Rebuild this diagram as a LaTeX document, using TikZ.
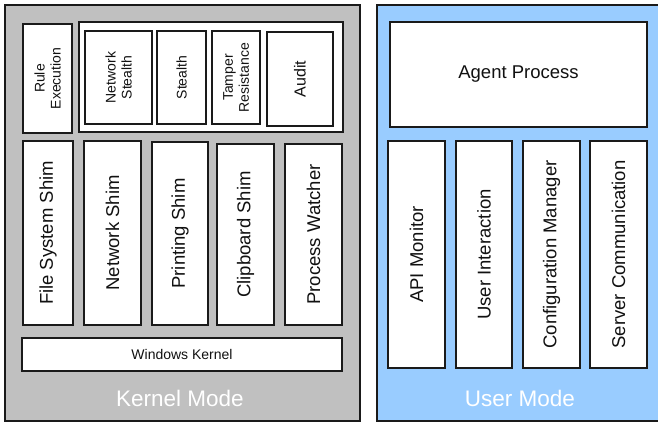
\documentclass[tikz,border=0pt]{standalone}
\usepackage{fontspec}
\setmainfont{Liberation Sans}
\definecolor{kgray}{HTML}{C0C0C0}
\definecolor{ublue}{HTML}{99CCFF}
\definecolor{edgec}{HTML}{1A1A1A}
\definecolor{txt}{HTML}{111111}
\tikzset{
  mode/.style={draw=edgec, line width=1.4pt, inner sep=0pt},
  box/.style={draw=edgec, fill=white, line width=1.1pt, inner sep=0pt, align=center, text=txt},
  big/.style={font=\fontsize{18.5}{20}\selectfont},
  small/.style={font=\fontsize{14}{16}\selectfont},
  modelabel/.style={text=white, font=\fontsize{22.5}{24}\selectfont, inner sep=0pt}
}
\begin{document}
\begin{tikzpicture}[x=1pt,y=-1pt]
\useasboundingbox (0,0) rectangle (658,422);
\clip (0,0) rectangle (658,422);
% mode panels
\node[mode, fill=kgray, minimum width=355pt, minimum height=416pt] (kernel) at (182.5,213) {};
\node[mode, fill=ublue, minimum width=285pt, minimum height=416pt] (user) at (519.5,213) {};
% kernel top row
\node[box, small, rotate=90, minimum width=109pt, minimum height=49pt] (rule) at (47.5,78.5) {Rule\\Execution};
\node[box, minimum width=264pt, minimum height=110pt] (group) at (211,77) {};
\node[box, small, rotate=90, minimum width=93pt, minimum height=67pt] (nstealth) at (118.5,77.5) {Network\\Stealth};
\node[box, small, rotate=90, minimum width=93pt, minimum height=49pt] (stealth) at (181.5,77.5) {Stealth};
\node[box, small, rotate=90, minimum width=93pt, minimum height=48pt] (tamper) at (236,77.5) {Tamper\\Resistance};
\node[box, rotate=90, font=\fontsize{16}{18}\selectfont, minimum width=94pt, minimum height=66pt] (audit) at (300,79) {Audit};
% shims
\node[box, big, rotate=90, minimum width=184pt, minimum height=50pt] (fsshim) at (48,233) {File System Shim};
\node[box, big, rotate=90, minimum width=184pt, minimum height=57pt] (netshim) at (112.5,233) {Network Shim};
\node[box, big, rotate=90, minimum width=183pt, minimum height=56pt] (printshim) at (180,233.5) {Printing Shim};
\node[box, big, rotate=90, minimum width=181pt, minimum height=57pt] (clipshim) at (245.5,234.5) {Clipboard Shim};
\node[box, big, rotate=90, minimum width=181pt, minimum height=57pt] (procw) at (313.5,234.5) {Process Watcher};
\node[box, small, minimum width=320pt, minimum height=33pt] (winkernel) at (182,354.5) {Windows Kernel};
\node[modelabel] (kmode) at (180,398) {Kernel Mode};
% user mode
\node[box, big, minimum width=257pt, minimum height=105pt] (agent) at (518.5,74.5) {Agent Process};
\node[box, big, rotate=90, minimum width=227pt, minimum height=57pt] (api) at (416.5,254.5) {API Monitor};
\node[box, big, rotate=90, minimum width=227pt, minimum height=56pt] (ui) at (484,254.5) {User Interaction};
\node[box, big, rotate=90, minimum width=227pt, minimum height=57pt] (conf) at (551.5,254.5) {Configuration Manager};
\node[box, big, rotate=90, minimum width=227pt, minimum height=57pt] (server) at (618.5,254.5) {Server Communication};
\node[modelabel] (umode) at (520,398) {User Mode};
\end{tikzpicture}
\end{document}
